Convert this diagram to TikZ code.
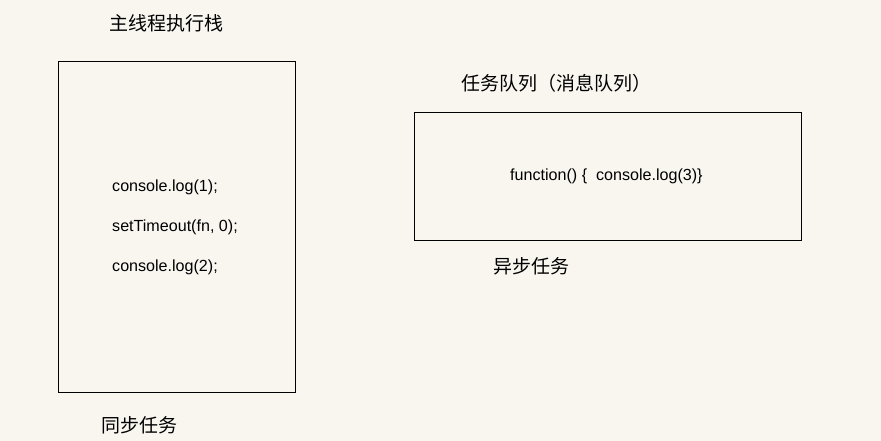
\documentclass[tikz,border=0pt]{standalone}
\usepackage{fontspec}
\setmainfont{Liberation Sans}
\newfontfamily\cjk{Noto Sans CJK SC}
\definecolor{bgcream}{RGB}{249,246,240}
\tikzset{
  codetext/.style={anchor=west,inner sep=0pt,font=\fontsize{16.1}{18}\selectfont},
  cjktext/.style={inner sep=0pt,font=\cjk\fontsize{19}{22}\selectfont},
  stackbox/.style={draw=black,line width=0.8pt}
}
\begin{document}
\begin{tikzpicture}[x=1pt,y=-1pt]
				\fill[bgcream] (0,0) rectangle (881,441);
				\useasboundingbox (0,0) rectangle (881,441);
				% main thread stack
				\draw[stackbox] (58,61) rectangle (295,392);
				\node[cjktext] (stacktitle) at (166.5,23) {主线程执行栈};
				\node[codetext] (lineA) at (112,187) {console.log(1);};
				\node[codetext] (lineB) at (112,227) {setTimeout(fn, 0);};
				\node[codetext] (lineC) at (112,267) {console.log(2);};
				\node[cjktext] (synclabel) at (139,425) {同步任务};
				% task queue
				\draw[stackbox] (414,112) rectangle (801,240);
				\node[cjktext] (queuetitle) at (556,83) {任务队列（消息队列）};
				\node[codetext] (callback) at (510,176) {function() \{\ \ console.log(3)\}};
				\node[cjktext] (asynclabel) at (531,266) {异步任务};
				\end{tikzpicture}
\end{document}
